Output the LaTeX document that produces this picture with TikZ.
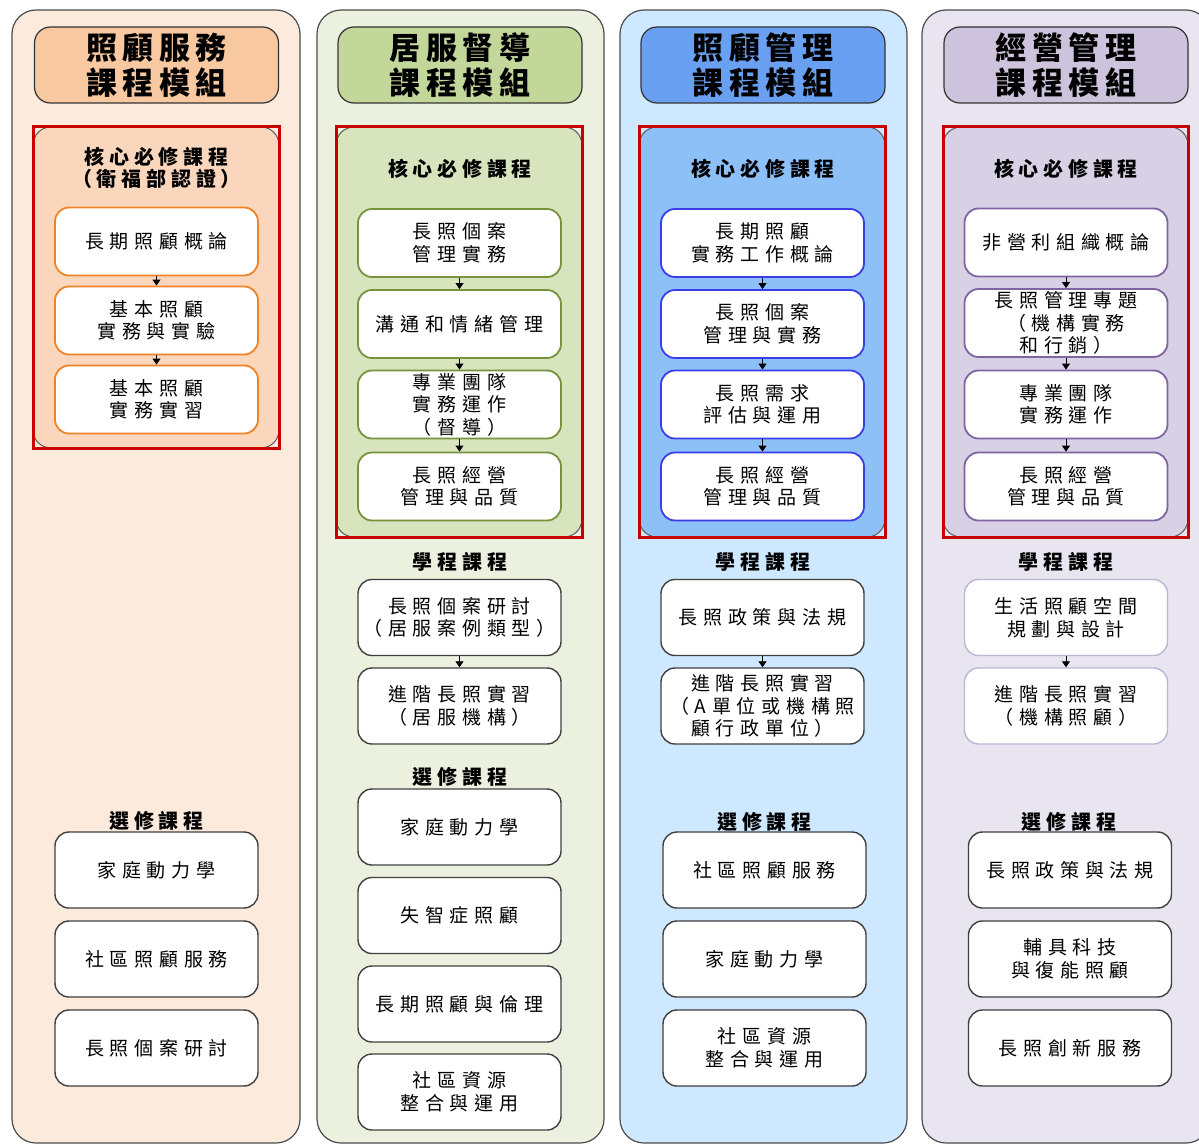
\documentclass[tikz,border=0pt]{standalone}
\usepackage{fontspec}
\usepackage{tikz}
\usetikzlibrary{arrows.meta,positioning}
\newfontfamily\cjkbody[LetterSpace=30]{Noto Sans CJK TC}
\newfontfamily\cjkhead[LetterSpace=18]{Noto Sans CJK TC}
\newfontfamily\cjklab[LetterSpace=24]{Noto Sans CJK TC}

\definecolor{bgA}{RGB}{252,234,221}
\definecolor{bgB}{RGB}{235,241,222}
\definecolor{bgC}{RGB}{206,233,255}
\definecolor{bgD}{RGB}{233,229,240}
\definecolor{headA}{RGB}{248,200,160}
\definecolor{headB}{RGB}{196,215,155}
\definecolor{headC}{RGB}{106,160,242}
\definecolor{headD}{RGB}{205,195,220}
\definecolor{panelA}{RGB}{249,214,188}
\definecolor{panelB}{RGB}{215,228,189}
\definecolor{panelC}{RGB}{142,192,248}
\definecolor{panelD}{RGB}{216,209,229}
\definecolor{lineA}{RGB}{240,130,40}
\definecolor{lineB}{RGB}{119,147,60}
\definecolor{lineC}{RGB}{60,60,232}
\definecolor{lineD}{RGB}{128,100,162}
\definecolor{lineE}{RGB}{190,180,212}
\definecolor{coreRed}{RGB}{200,0,0}

\begin{document}
\begin{tikzpicture}[
  x=1pt, y=-1pt,
  colbox/.style={rounded corners=24pt,draw=black!70,line width=1.2pt},
  headbox/.style={rounded corners=16pt,draw=black!80,line width=1.2pt,
    minimum width=244pt,minimum height=76pt,inner sep=0pt,align=center,
    font=\cjkhead\bfseries\fontsize{31}{35}\selectfont},
  panel/.style={rounded corners=18pt,draw=black!65,line width=1pt},
  redframe/.style={draw=coreRed,line width=3pt},
  course/.style={rounded corners=14pt,fill=white,line width=1.8pt,
    minimum width=203pt,minimum height=68pt,inner sep=0pt,align=center,
    font=\cjkbody\fontsize{19}{22.5}\selectfont},
  elective/.style={course,draw=black!75,line width=1.4pt,minimum height=76pt},
  grouplab/.style={font=\cjklab\bfseries\fontsize{20}{22}\selectfont,align=center},
  flow/.style={-{Triangle[width=8pt,length=6pt]},line width=0.8pt}
]
\useasboundingbox (0,0) rectangle (1199,1145);

% ===================== column backgrounds =====================
\draw[colbox,fill=bgA] (12,10) rectangle (300,1143);
\draw[colbox,fill=bgB] (317,10) rectangle (604,1143);
\draw[colbox,fill=bgC] (620,10) rectangle (907,1143);
\draw[colbox,fill=bgD] (922,10) rectangle (1210,1143);

% ===================== module headers =====================
\node[headbox,fill=headA] (headA) at (156.5,65) {照顧服務\\課程模組};
\node[headbox,fill=headB] (headB) at (460,65) {居服督導\\課程模組};
\node[headbox,fill=headC] (headC) at (763,65) {照顧管理\\課程模組};
\node[headbox,fill=headD] (headD) at (1066,65) {經營管理\\課程模組};

% ===================== core panels (red frames) =====================
\draw[panel,fill=panelA] (33,127) rectangle (279,448);
\draw[redframe] (33,127) rectangle (279,448);
\draw[panel,fill=panelB] (336,127) rectangle (582,537);
\draw[redframe] (336,127) rectangle (582,537);
\draw[panel,fill=panelC] (639,127) rectangle (885,537);
\draw[redframe] (639,127) rectangle (885,537);
\draw[panel,fill=panelD] (943,127) rectangle (1188,537);
\draw[redframe] (943,127) rectangle (1188,537);

\node[grouplab] (coreA) at (156.5,168) {核心必修課程\\（衛福部認證）};
\node[grouplab] (coreB) at (460,169) {核心必修課程};
\node[grouplab] (coreC) at (763,169) {核心必修課程};
\node[grouplab] (coreD) at (1066,169) {核心必修課程};

% ----- column A core
\node[course,draw=lineA] (a1) at (156.5,241.5) {長期照顧概論};
\node[course,draw=lineA] (a2) at (156.5,320.5) {基本照顧\\實務與實驗};
\node[course,draw=lineA] (a3) at (156.5,399.5) {基本照顧\\實務實習};
\draw[flow] (a1) -- (a2);
\draw[flow] (a2) -- (a3);

% ----- column B core
\node[course,draw=lineB] (b1) at (459.5,243) {長照個案\\管理實務};
\node[course,draw=lineB] (b2) at (459.5,324) {溝通和情緒管理};
\node[course,draw=lineB] (b3) at (459.5,404.5) {專業團隊\\實務運作\\（督導）};
\node[course,draw=lineB] (b4) at (459.5,486.5) {長照經營\\管理與品質};
\draw[flow] (b1) -- (b2);
\draw[flow] (b2) -- (b3);
\draw[flow] (b3) -- (b4);

% ----- column C core
\node[course,draw=lineC] (c1) at (762.5,243) {長期照顧\\實務工作概論};
\node[course,draw=lineC] (c2) at (762.5,324) {長照個案\\管理與實務};
\node[course,draw=lineC] (c3) at (762.5,404.5) {長照需求\\評估與運用};
\node[course,draw=lineC] (c4) at (762.5,486.5) {長照經營\\管理與品質};
\draw[flow] (c1) -- (c2);
\draw[flow] (c2) -- (c3);
\draw[flow] (c3) -- (c4);

% ----- column D core
\node[course,draw=lineD] (d1) at (1066,242.5) {非營利組織概論};
\node[course,draw=lineD] (d2) at (1066,323) {長照管理專題\\（機構實務\\和行銷）};
\node[course,draw=lineD] (d3) at (1066,404.5) {專業團隊\\實務運作};
\node[course,draw=lineD] (d4) at (1066,486.5) {長照經營\\管理與品質};
\draw[flow] (d1) -- (d2);
\draw[flow] (d2) -- (d3);
\draw[flow] (d3) -- (d4);

% ===================== program courses =====================
\node[grouplab] (progB) at (460,562) {學程課程};
\node[grouplab] (progC) at (763,562) {學程課程};
\node[grouplab] (progD) at (1066,562) {學程課程};

\node[elective] (pb1) at (459.5,617.5) {長照個案研討\\（居服案例類型）};
\node[elective] (pb2) at (459.5,706) {進階長照實習\\（居服機構）};
\draw[flow] (pb1) -- (pb2);
\node[elective] (pc1) at (762.5,617.5) {長照政策與法規};
\node[elective] (pc2) at (762.5,706) {進階長照實習\\（A單位或機構照\\顧行政單位）};
\draw[flow] (pc1) -- (pc2);
\node[elective,draw=lineE] (pd1) at (1066,617.5) {生活照顧空間\\規劃與設計};
\node[elective,draw=lineE] (pd2) at (1066,706) {進階長照實習\\（機構照顧）};
\draw[flow] (pd1) -- (pd2);

% ===================== electives =====================
\node[grouplab] (elecA) at (156.5,821) {選修課程};
\node[elective] (ea1) at (156.5,870) {家庭動力學};
\node[elective] (ea2) at (156.5,959) {社區照顧服務};
\node[elective] (ea3) at (156.5,1048) {長照個案研討};

\node[grouplab] (elecB) at (460,777) {選修課程};
\node[elective] (eb1) at (459.5,827) {家庭動力學};
\node[elective] (eb2) at (459.5,915.5) {失智症照顧};
\node[elective] (eb3) at (459.5,1004) {長期照顧與倫理};
\node[elective] (eb4) at (459.5,1092) {社區資源\\整合與運用};

\node[grouplab] (elecC) at (764.5,822) {選修課程};
\node[elective] (ec1) at (764.5,870) {社區照顧服務};
\node[elective] (ec2) at (764.5,959) {家庭動力學};
\node[elective] (ec3) at (764.5,1048) {社區資源\\整合與運用};

\node[grouplab] (elecD) at (1069,822) {選修課程};
\node[elective] (ed1) at (1070,870) {長照政策與法規};
\node[elective] (ed2) at (1070,959) {輔具科技\\與復能照顧};
\node[elective] (ed3) at (1070,1048) {長照創新服務};

\end{tikzpicture}
\end{document}
